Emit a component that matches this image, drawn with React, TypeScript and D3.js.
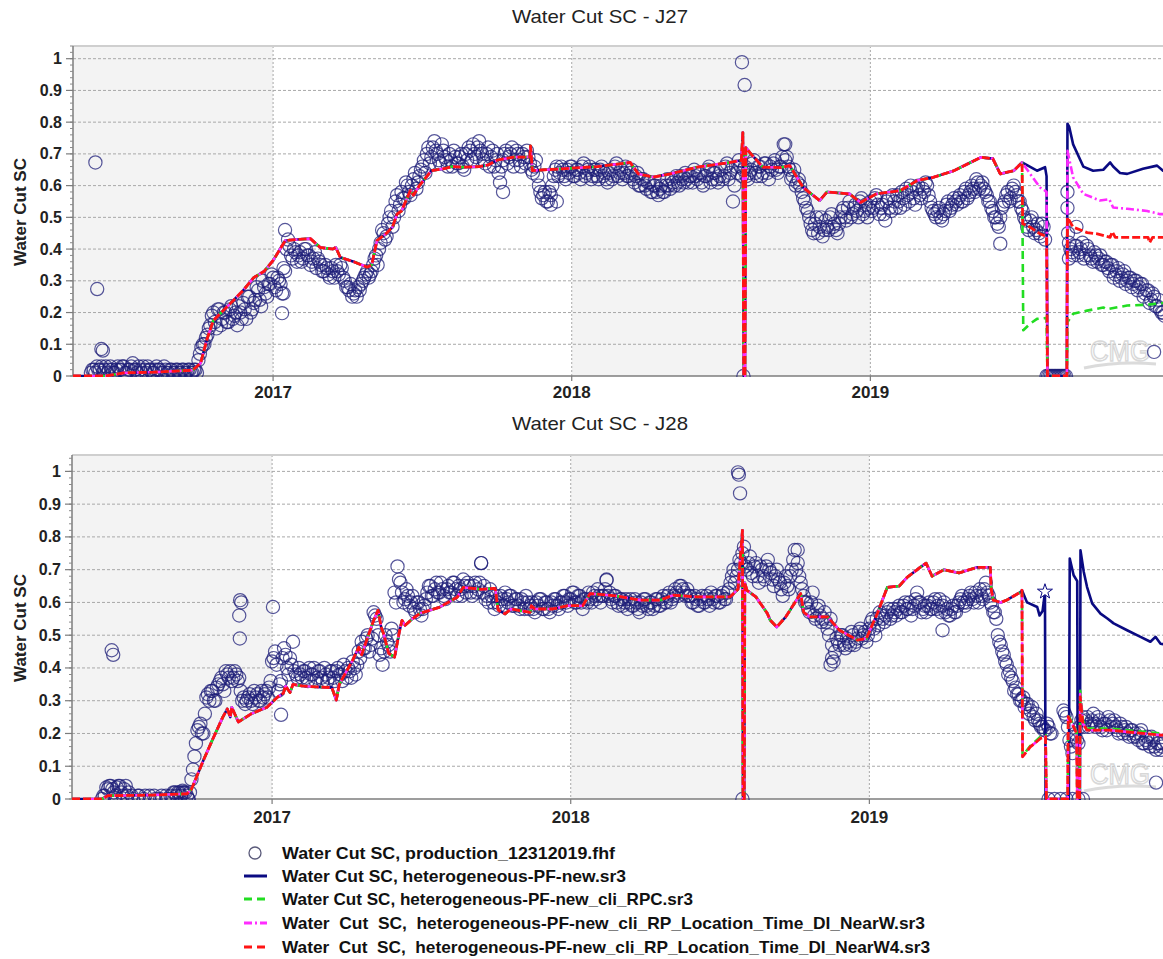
import React from 'react';
import * as d3 from 'd3';

type Pt = [number, number];

const FONT = '"Liberation Sans", Arial, Helvetica, sans-serif';
const W = 1163;
const H = 959;

const X_DOMAIN: [number, number] = [2016.33, 2020.0];
const YEAR_TICKS = [2017, 2018, 2019];
const YEAR_LABELS = ['2017', '2018', '2019'];
const Y_TICKS = [0, 0.1, 0.2, 0.3, 0.4, 0.5, 0.6, 0.7, 0.8, 0.9, 1];
const Y_TICK_LABELS = ['0', '0.1', '0.2', '0.3', '0.4', '0.5', '0.6', '0.7', '0.8', '0.9', '1'];
const SHADED_SPANS: Pt[] = [[2016.33, 2017], [2018, 2019]];

// Observed (production) water cut: two interleaved sample sets, each every OBS_STEP years
const OBS_START_A = 2016.39;
const OBS_START_B = 2016.395;
const OBS_STEP = 0.01;

const obsJ27a: (number | null)[] = [
  0.01,0.02,0.03,0.02,0.01,0.03,0.02,0.02,0.01,0.03,
  0.02,0.03,0.01,0.02,0.04,0.02,0.03,0.01,0.02,0.03,
  0.02,0.01,0.03,0.02,0.01,0.02,0.01,0.02,0.01,0.02,
  0.01,0.02,0.01,0.02,0.01,0.02,0.05,0.09,0.1,0.13,
  0.16,0.2,0.15,0.21,0.18,0.2,0.17,0.22,0.19,0.16,
  0.2,0.23,0.18,0.25,0.21,0.24,0.27,0.22,0.28,0.25,
  0.29,0.31,0.27,0.3,0.26,0.33,0.43,0.38,0.4,0.36,
  0.39,0.37,0.4,0.38,0.36,0.39,0.37,0.35,0.33,0.34,
  0.31,0.33,0.35,0.32,0.34,0.3,0.28,0.29,0.26,0.25,
  0.27,0.3,0.32,0.31,0.33,0.37,0.35,0.42,0.45,0.44,
  0.5,0.47,0.55,0.52,0.58,0.56,0.6,0.57,0.62,0.59,
  0.63,0.66,0.64,0.72,0.69,0.74,0.7,0.67,0.71,0.68,
  0.7,0.66,0.69,0.67,0.7,0.65,0.68,0.71,0.73,0.69,
  0.74,0.7,0.67,0.72,0.69,0.66,0.7,0.61,0.68,0.71,
  0.69,0.72,0.68,0.7,0.66,0.69,0.71,0.67,0.64,0.68,
  0.6,0.56,0.58,0.55,0.57,0.63,0.66,0.64,0.65,0.62,
  0.64,0.66,0.63,0.65,0.62,0.67,0.64,0.66,0.63,0.65,
  0.62,0.66,0.64,0.61,0.65,0.63,0.67,0.64,0.62,0.66,
  0.63,0.65,0.61,0.64,0.6,0.62,0.59,0.61,0.58,0.6,
  0.57,0.6,0.58,0.62,0.59,0.61,0.63,0.6,0.62,0.64,
  0.61,0.63,0.65,0.62,0.64,0.6,0.63,0.66,0.62,0.64,
  0.61,0.65,0.63,0.67,0.64,0.55,0.66,0.68,0.63,0.66,
  0.62,0.65,0.68,0.63,0.66,0.64,0.67,0.62,0.65,0.68,
  0.64,0.66,0.73,0.69,0.65,0.63,0.6,0.62,0.58,0.55,
  0.52,0.48,0.45,0.5,0.47,0.44,0.49,0.46,0.51,0.48,
  0.45,0.5,0.53,0.49,0.55,0.51,0.54,0.5,0.56,0.52,
  0.5,0.55,0.53,0.57,0.51,0.54,0.49,0.56,0.52,0.55,
  0.57,0.53,0.56,0.59,0.55,0.58,0.54,0.6,0.56,0.58,
  0.6,0.55,0.52,0.5,0.53,0.49,0.52,0.55,0.53,0.56,
  0.54,0.57,0.55,0.59,0.57,0.6,0.58,0.61,0.6,0.59,
  0.57,0.55,0.52,0.5,0.47,0.53,0.55,0.58,0.56,0.6,
  0.57,0.55,0.52,0.49,0.46,0.5,0.45,0.48,0.44,0.47,
  0,0,0,0,0,0,0,0.58,0.4,0.38,
  0.41,0.39,0.42,0.38,0.4,0.37,0.39,0.36,0.38,0.35,
  0.36,0.33,0.35,0.32,0.34,0.31,0.33,0.3,0.31,0.29,
  0.3,0.28,0.29,0.26,0.27,0.24,0.25,0.22,0.21,0.2,
];

const obsJ27b: (number | null)[] = [
  0.02,0.01,0.02,0.03,0.02,0.01,0.03,0.01,0.02,0.02,
  0.03,0.01,0.02,0.03,0.02,0.01,0.02,0.03,0.01,0.02,
  0.01,0.02,0.02,0.01,0.03,0.01,0.02,0.01,0.02,0.01,
  0.02,0.01,0.02,0.01,0.02,0.01,0.07,0.1,0.12,0.15,
  0.19,0.17,0.21,0.16,0.2,0.17,0.21,0.18,0.2,0.22,
  0.18,0.21,0.25,0.2,0.23,0.28,0.24,0.3,0.26,0.29,
  0.32,0.28,0.31,0.29,0.34,0.4,0.41,0.37,0.39,0.38,
  0.36,0.4,0.38,0.35,0.37,0.34,0.36,0.33,0.35,0.32,
  0.34,0.31,0.33,0.35,0.31,0.28,0.27,0.25,0.27,0.28,
  0.29,0.31,0.33,0.32,0.35,0.38,0.4,0.46,0.43,0.48,
  0.52,0.5,0.57,0.54,0.56,0.61,0.58,0.6,0.64,0.61,
  0.65,0.68,0.7,0.67,0.72,0.71,0.68,0.73,0.69,0.66,
  0.68,0.71,0.67,0.69,0.66,0.7,0.72,0.68,0.7,0.72,
  0.71,0.68,0.7,0.66,0.71,0.68,0.64,0.66,0.7,0.67,
  0.7,0.66,0.71,0.68,0.7,0.67,0.69,0.65,0.66,0.63,
  0.58,0.57,0.55,0.58,0.6,0.65,0.63,0.66,0.63,0.65,
  0.66,0.63,0.65,0.64,0.66,0.63,0.65,0.62,0.65,0.63,
  0.65,0.63,0.62,0.64,0.62,0.66,0.63,0.65,0.64,0.63,
  0.64,0.62,0.63,0.6,0.62,0.6,0.61,0.58,0.6,0.58,
  0.59,0.58,0.6,0.6,0.62,0.6,0.61,0.63,0.61,0.62,
  0.63,0.61,0.63,0.64,0.61,0.63,0.65,0.61,0.64,0.62,
  0.63,0.62,0.66,0.62,0.65,0.6,0.64,0.66,0.65,0.63,
  0.64,0.67,0.64,0.66,0.63,0.67,0.64,0.66,0.67,0.65,
  0.66,0.69,0.68,0.66,0.62,0.65,0.61,0.6,0.56,0.53,
  0.5,0.46,0.48,0.45,0.5,0.46,0.47,0.5,0.47,0.46,
  0.48,0.52,0.5,0.53,0.5,0.53,0.52,0.55,0.51,0.54,
  0.53,0.52,0.56,0.54,0.53,0.51,0.55,0.53,0.57,0.53,
  0.55,0.58,0.54,0.57,0.6,0.56,0.59,0.57,0.59,0.61,
  0.57,0.53,0.51,0.52,0.5,0.51,0.54,0.52,0.54,0.55,
  0.56,0.55,0.58,0.56,0.58,0.59,0.62,0.59,0.61,0.58,
  0.55,0.53,0.5,0.48,0.5,0.54,0.57,0.55,0.59,0.58,
  0.55,0.53,0.5,0.47,0.49,0.47,0.46,0.45,0.48,0.43,
  0,0,0,0,0,0,0,0.42,0.39,0.41,
  0.38,0.4,0.37,0.41,0.38,0.36,0.38,0.37,0.35,0.36,
  0.34,0.35,0.31,0.33,0.3,0.32,0.29,0.31,0.28,0.3,
  0.27,0.29,0.25,0.27,0.23,0.26,0.22,0.24,0.2,0.19,
];

const obsJ27Extra: Pt[] = [
  [2016.405, 0.673], [2016.411, 0.274], [2016.425, 0.085], [2016.43, 0.08],
  [2017.03, 0.198], [2017.035, 0.26], [2017.04, 0.46], [2017.77, 0.58],
  [2017.93, 0.54], [2017.95, 0.55], [2018.57, 0.989], [2018.579, 0.917],
  [2018.575, 0], [2018.715, 0.73], [2019.435, 0.417], [2019.66, 0.53],
  [2019.662, 0.45], [2019.665, 0.37], [2019.69, 0.47], [2019.95, 0.076],
];

const obsJ28a: (number | null)[] = [
  null,null,null,null,0.0,0.01,0.03,0.04,0.02,0.035,
  0.04,0.01,0.04,0.02,0.01,null,0.01,null,0.0,null,
  0.01,null,0.0,null,0.01,null,0.0,0.01,0.02,0.01,
  0.02,0.025,0.02,0.0,0.06,0.13,0.21,0.23,0.2,0.31,
  0.3,0.33,0.3,0.35,0.37,0.33,0.38,0.39,0.37,0.38,
  0.37,0.3,0.29,0.31,0.3,0.33,0.32,0.3,0.31,0.33,
  0.34,0.42,0.45,0.33,0.36,0.46,0.4,0.43,0.48,0.38,
  0.4,0.37,0.39,0.36,0.38,0.4,0.37,0.39,0.36,0.38,
  0.37,0.39,0.36,0.4,0.38,0.41,0.37,0.39,0.42,0.38,
  0.45,0.48,0.46,0.5,0.47,0.57,0.55,0.44,0.41,0.5,
  0.47,0.52,0.63,0.71,0.66,0.6,0.64,0.59,0.62,0.57,
  0.6,0.56,0.59,0.63,0.65,0.62,0.66,0.63,0.64,0.61,
  0.65,0.63,0.66,0.62,0.64,0.67,0.63,0.65,0.62,0.66,
  0.64,0.72,0.65,0.62,0.64,0.6,0.62,0.59,0.61,0.63,
  0.6,0.62,0.59,0.61,0.58,0.6,0.62,0.58,0.6,0.57,
  0.59,0.61,0.58,0.6,0.57,0.59,0.61,0.58,0.6,0.62,
  0.59,0.61,0.63,0.6,0.62,0.58,0.61,0.63,0.6,0.62,
  0.64,0.6,0.62,0.67,0.63,0.6,0.62,0.59,0.61,0.6,
  0.58,0.61,0.59,0.6,0.57,0.59,0.61,0.58,0.6,0.59,
  0.61,0.59,0.62,0.6,0.63,0.61,0.64,0.62,0.65,0.63,
  0.64,0.62,0.6,0.61,0.59,0.62,0.6,0.61,0.63,0.6,
  0.62,0.6,0.63,0.61,0.64,0.68,0.66,0.7,0.72,0.77,
  0.7,0.74,0.68,0.72,0.66,0.7,0.67,0.73,0.69,0.65,
  0.7,0.66,0.62,0.68,0.64,0.7,0.76,0.72,0.66,0.62,
  0.6,0.57,0.63,0.55,0.59,0.54,0.57,0.52,0.55,0.42,
  0.49,0.47,0.5,0.46,0.48,0.51,0.47,0.49,0.52,0.5,
  0.48,0.52,0.55,0.5,0.53,0.56,0.54,0.57,0.55,0.58,
  0.56,0.59,0.57,0.6,0.58,0.56,0.59,0.63,0.6,0.58,
  0.57,0.6,0.58,0.61,0.59,0.57,0.6,0.58,0.56,0.59,
  0.57,0.6,0.62,0.59,0.61,0.63,0.6,0.62,0.64,0.61,
  0.66,0.62,0.59,0.57,0.5,0.47,0.44,0.41,0.39,0.36,
  0.34,0.32,0.3,0.28,0.29,0.27,0.25,0.26,0.23,0.22,
  0.21,0.22,0.2,null,null,null,0.27,0.25,0.18,0.14,
  0.2,0.17,0.24,0.22,0.25,0.23,0.26,0.22,0.24,0.21,
  0.23,0.25,0.22,0.24,0.21,0.23,0.2,0.22,0.19,0.21,
  0.2,0.18,0.21,0.17,0.19,0.16,0.18,0.15,0.17,0.16,
];

const obsJ28b: (number | null)[] = [
  null,null,null,null,0.01,0.035,0.04,0.03,0.01,0.04,
  0.02,0.03,0.01,null,0.0,null,0.01,null,0.01,null,
  null,0.01,null,0.0,null,0.01,null,0.0,0.02,0.02,
  0.01,0.02,0.01,0.02,0.09,0.17,0.22,0.2,0.26,0.32,
  0.33,0.3,0.34,0.36,0.35,0.39,0.37,0.36,0.39,0.36,
  0.33,0.31,0.3,0.32,0.29,0.31,0.3,0.33,0.32,0.31,
  0.36,0.43,0.41,0.35,0.43,0.44,0.38,0.41,0.39,0.37,
  0.38,0.39,0.37,0.4,0.38,0.36,0.39,0.37,0.4,0.36,
  0.39,0.37,0.39,0.38,0.36,0.39,0.4,0.37,0.4,0.41,
  0.43,0.46,0.49,0.45,0.49,0.56,0.5,0.46,0.45,0.48,
  0.45,0.5,0.6,0.67,0.63,0.61,0.62,0.6,0.58,0.6,
  0.58,0.58,0.61,0.65,0.62,0.64,0.63,0.66,0.62,0.64,
  0.63,0.66,0.64,0.65,0.62,0.65,0.66,0.63,0.65,0.63,
  0.66,0.63,0.61,0.6,0.62,0.58,0.6,0.62,0.59,0.61,
  0.62,0.59,0.61,0.59,0.61,0.58,0.6,0.59,0.58,0.6,
  0.61,0.58,0.6,0.58,0.6,0.61,0.59,0.6,0.62,0.6,
  0.61,0.63,0.6,0.62,0.6,0.61,0.6,0.61,0.63,0.61,
  0.62,0.62,0.64,0.62,0.61,0.62,0.6,0.61,0.59,0.61,
  0.6,0.59,0.61,0.58,0.6,0.61,0.59,0.6,0.58,0.61,
  0.59,0.61,0.6,0.62,0.6,0.62,0.63,0.65,0.64,0.62,
  0.62,0.6,0.62,0.59,0.61,0.6,0.62,0.59,0.61,0.62,
  0.6,0.62,0.61,0.63,0.66,0.7,0.68,0.73,0.75,0.71,
  0.72,0.69,0.71,0.68,0.71,0.68,0.71,0.7,0.67,0.68,
  0.67,0.64,0.66,0.65,0.68,0.73,0.7,0.68,0.64,0.6,
  0.58,0.6,0.56,0.58,0.56,0.55,0.54,0.5,0.47,0.45,
  0.48,0.5,0.47,0.49,0.47,0.5,0.48,0.51,0.49,0.51,
  0.5,0.54,0.52,0.55,0.57,0.55,0.56,0.58,0.56,0.57,
  0.58,0.57,0.59,0.58,0.6,0.58,0.61,0.6,0.57,0.59,
  0.59,0.58,0.6,0.58,0.61,0.59,0.57,0.56,0.58,0.57,
  0.59,0.61,0.6,0.6,0.62,0.61,0.63,0.6,0.62,0.64,
  0.63,0.6,0.57,0.55,0.48,0.45,0.42,0.38,0.37,0.33,
  0.32,0.3,0.31,0.29,0.26,0.28,0.24,0.24,0.22,0.21,
  0.23,0.2,null,null,null,null,0.26,0.22,0.16,0.19,
  0.18,0.22,0.25,0.24,0.22,0.24,0.23,0.25,0.22,0.23,
  0.21,0.24,0.23,0.22,0.2,0.22,0.21,0.2,0.21,0.19,
  0.19,0.2,0.17,0.18,0.17,0.19,0.16,0.17,0.15,0.17,
];

const obsJ28Extra: Pt[] = [
  [2016.463, 0.454], [2016.468, 0.44], [2016.70, 0.02], [2016.72, 0.0],
  [2016.893, 0.607], [2016.897, 0.6], [2016.89, 0.56], [2016.892, 0.49],
  [2017.003, 0.586], [2017.03, 0.257], [2017.70, 0.72], [2018.12, 0.668],
  [2018.56, 0.997], [2018.563, 0.99], [2018.567, 0.933], [2018.575, 0],
  [2018.76, 0.76], [2018.87, 0.41], [2018.875, 0.43], [2019.245, 0.515],
  [2019.60, 0], [2019.62, 0], [2019.64, 0], [2019.66, 0], [2019.68, 0],
  [2019.70, 0], [2019.715, 0], [2019.96, 0.05],
];

// Simulation curves, J27: common history then one tail per run
const simJ27Base: Pt[] = [
  [2016.33,0],[2016.44,0],[2016.5,0.01],[2016.6,0.012],[2016.73,0.018],[2016.757,0.04],
  [2016.78,0.12],[2016.80,0.175],[2016.867,0.238],[2016.90,0.27],[2016.935,0.31],[2016.97,0.33],
  [2017.0,0.364],[2017.041,0.427],[2017.08,0.43],[2017.125,0.433],[2017.158,0.405],[2017.2,0.40],
  [2017.21,0.405],[2017.225,0.374],[2017.27,0.36],[2017.315,0.343],[2017.33,0.35],[2017.348,0.427],
  [2017.38,0.45],[2017.40,0.47],[2017.415,0.51],[2017.43,0.52],[2017.46,0.585],[2017.47,0.57],
  [2017.49,0.6],[2017.53,0.647],[2017.57,0.653],[2017.60,0.66],[2017.64,0.658],[2017.69,0.66],
  [2017.72,0.665],[2017.75,0.68],[2017.805,0.69],[2017.86,0.69],[2017.862,0.725],[2017.865,0.69],
  [2017.868,0.647],[2017.91,0.65],[2017.97,0.653],[2018.086,0.66],[2018.196,0.673],[2018.223,0.637],
  [2018.273,0.627],[2018.33,0.637],[2018.42,0.658],[2018.53,0.673],[2018.568,0.68],[2018.573,0.767],
  [2018.576,0],[2018.580,0],[2018.583,0.72],[2018.60,0.70],[2018.64,0.658],[2018.70,0.657],
  [2018.73,0.663],[2018.775,0.594],[2018.83,0.553],[2018.855,0.58],[2018.93,0.574],[2018.967,0.547],
  [2019.02,0.574],[2019.10,0.584],[2019.157,0.616],[2019.21,0.626],[2019.28,0.647],[2019.325,0.668],
  [2019.37,0.689],[2019.41,0.685],[2019.435,0.637],[2019.48,0.647],[2019.508,0.673],
];
const simJ27NavyTail: Pt[] = [
  [2019.558,0.647],[2019.585,0.658],[2019.590,0.63],[2019.593,0],[2019.658,0],[2019.660,0.795],
  [2019.666,0.785],[2019.679,0.73],[2019.713,0.66],[2019.746,0.647],[2019.78,0.65],[2019.803,0.673],
  [2019.813,0.66],[2019.836,0.64],[2019.86,0.637],[2019.913,0.653],[2019.96,0.663],[2019.98,0.647],[2020.0,0.645],
];
const simJ27GreenTail: Pt[] = [
  [2019.512,0.144],[2019.535,0.165],[2019.558,0.18],[2019.590,0.183],[2019.593,0],[2019.658,0],
  [2019.660,0.17],[2019.679,0.196],[2019.726,0.206],[2019.78,0.216],[2019.79,0.21],[2019.86,0.222],
  [2019.93,0.225],[2020.0,0.232],
];
const simJ27MagentaTail: Pt[] = [
  [2019.535,0.637],[2019.568,0.594],[2019.585,0.584],[2019.590,0.58],[2019.593,0],[2019.658,0],
  [2019.660,0.71],[2019.679,0.626],[2019.713,0.574],[2019.769,0.553],[2019.80,0.557],[2019.813,0.531],
  [2019.86,0.527],[2019.927,0.52],[2019.97,0.51],[2020.0,0.51],
];
const simJ27RedTail: Pt[] = [
  [2019.510,0.48],[2019.535,0.469],[2019.568,0.448],[2019.590,0.44],[2019.593,0],[2019.658,0],
  [2019.660,0.50],[2019.679,0.469],[2019.726,0.452],[2019.76,0.448],[2019.803,0.437],[2019.81,0.455],
  [2019.82,0.437],[2019.93,0.437],[2019.935,0.42],[2019.945,0.437],[2020.0,0.437],
];

// Simulation curves, J28
const simJ28Base: Pt[] = [
  [2016.33,0],[2016.43,0],[2016.45,0.01],[2016.6,0.012],[2016.715,0.016],[2016.73,0.03],
  [2016.77,0.118],[2016.80,0.18],[2016.835,0.25],[2016.85,0.275],[2016.86,0.25],[2016.865,0.28],
  [2016.887,0.235],[2016.93,0.26],[2016.983,0.28],[2017.017,0.31],[2017.038,0.323],[2017.045,0.345],
  [2017.06,0.325],[2017.07,0.35],[2017.10,0.345],[2017.15,0.342],[2017.20,0.34],[2017.215,0.302],
  [2017.225,0.35],[2017.27,0.424],[2017.29,0.463],[2017.30,0.44],[2017.315,0.48],[2017.34,0.545],
  [2017.355,0.576],[2017.365,0.525],[2017.375,0.50],[2017.39,0.445],[2017.41,0.433],[2017.425,0.505],
  [2017.435,0.545],[2017.445,0.53],[2017.47,0.55],[2017.496,0.567],[2017.56,0.585],[2017.62,0.616],
  [2017.64,0.646],[2017.70,0.64],[2017.747,0.643],[2017.757,0.577],[2017.78,0.565],[2017.80,0.58],
  [2017.864,0.57],[2017.868,0.59],[2017.88,0.58],[2017.94,0.58],[2017.99,0.59],[2018.04,0.59],
  [2018.065,0.627],[2018.15,0.62],[2018.233,0.607],[2018.30,0.607],[2018.343,0.622],[2018.42,0.617],
  [2018.534,0.617],[2018.56,0.64],[2018.575,0.82],[2018.577,0],[2018.581,0],[2018.583,0.66],
  [2018.59,0.637],[2018.62,0.617],[2018.658,0.567],[2018.668,0.546],[2018.69,0.525],[2018.72,0.556],
  [2018.77,0.627],[2018.78,0.57],[2018.80,0.556],[2018.86,0.556],[2018.90,0.515],[2018.96,0.485],
  [2018.99,0.49],[2019.027,0.567],[2019.06,0.646],[2019.10,0.65],[2019.127,0.677],[2019.17,0.707],
  [2019.19,0.72],[2019.21,0.68],[2019.25,0.70],[2019.30,0.69],[2019.36,0.707],[2019.405,0.707],
  [2019.408,0.64],[2019.415,0.607],[2019.44,0.6],[2019.46,0.607],[2019.505,0.631],
];
const simJ28NavyTail: Pt[] = [
  [2019.511,0.637],[2019.528,0.60],[2019.562,0.586],[2019.57,0.56],[2019.58,0.574],[2019.586,0.617],
  [2019.588,0.633],[2019.590,0],[2019.668,0],[2019.671,0.734],[2019.684,0.683],[2019.696,0.665],
  [2019.698,0],[2019.705,0],[2019.707,0.759],[2019.718,0.693],[2019.729,0.647],[2019.746,0.597],
  [2019.774,0.566],[2019.797,0.551],[2019.818,0.536],[2019.863,0.515],[2019.908,0.495],[2019.941,0.48],
  [2019.958,0.495],[2019.975,0.474],[2020.0,0.47],
];
const simJ28GreenTail: Pt[] = [
  [2019.511,0.637],[2019.513,0.132],[2019.539,0.162],[2019.573,0.19],[2019.59,0.195],[2019.593,0],
  [2019.664,0],[2019.666,0.255],[2019.684,0.225],[2019.694,0.205],[2019.696,0],[2019.704,0],
  [2019.706,0.33],[2019.715,0.24],[2019.729,0.215],[2019.807,0.215],[2019.863,0.21],[2019.919,0.205],
  [2019.975,0.2],[2020.0,0.2],
];
const simJ28MagentaTail: Pt[] = [
  [2019.511,0.637],[2019.513,0.129],[2019.539,0.159],[2019.573,0.185],[2019.59,0.19],[2019.593,0],
  [2019.664,0],[2019.666,0.251],[2019.684,0.22],[2019.694,0.2],[2019.696,0],[2019.704,0],
  [2019.706,0.32],[2019.715,0.23],[2019.729,0.21],[2019.807,0.21],[2019.863,0.205],[2019.919,0.2],
  [2019.975,0.195],[2020.0,0.195],
];
const simJ28RedTail: Pt[] = [
  [2019.511,0.637],[2019.513,0.129],[2019.539,0.159],[2019.573,0.185],[2019.59,0.19],[2019.593,0],
  [2019.664,0],[2019.666,0.251],[2019.684,0.22],[2019.694,0.2],[2019.696,0],[2019.704,0],
  [2019.706,0.312],[2019.715,0.23],[2019.729,0.21],[2019.807,0.21],[2019.863,0.205],[2019.919,0.2],
  [2019.975,0.195],[2020.0,0.195],
];
const starJ28: Pt = [2019.588, 0.633];

const LEGEND_LABELS = [
  'Water Cut SC, production_12312019.fhf',
  'Water Cut SC, heterogeneous-PF-new.sr3',
  'Water Cut SC, heterogeneous-PF-new_cli_RPC.sr3',
  'Water  Cut  SC,  heterogeneous-PF-new_cli_RP_Location_Time_DI_NearW.sr3',
  'Water  Cut  SC,  heterogeneous-PF-new_cli_RP_Location_Time_DI_NearW4.sr3',
];

const COLORS = {
  obs: '#1e1e78',
  navy: '#0a0a82',
  green: '#22dd22',
  magenta: '#ff2cff',
  red: '#ff1414',
};

function toPoints(start: number, vals: (number | null)[]): Pt[] {
  const pts: Pt[] = [];
  vals.forEach((v, i) => {
    if (v !== null) pts.push([start + i * OBS_STEP, v]);
  });
  return pts;
}

type PanelCfg = {
  id: string;
  title: string;
  titleY: number;
  left: number;
  right: number;
  top: number;
  bottom: number;
  yMax: number;
  yearLabelY: number;
  yLabelCY: number;
  obs: Pt[];
  navy: Pt[];
  green: Pt[];
  magenta: Pt[];
  red: Pt[];
  star?: Pt;
};

function Panel({ cfg }: { cfg: PanelCfg }) {
  const x = d3.scaleLinear().domain(X_DOMAIN).range([cfg.left, cfg.right]);
  const y = d3.scaleLinear().domain([0, cfg.yMax]).range([cfg.bottom, cfg.top]);
  const line = d3.line<Pt>().x((d) => x(d[0])).y((d) => y(d[1]));
  const clipId = `clip-${cfg.id}`;
  const minorTicks = d3.range(0, cfg.yMax + 1e-9, 0.02);
  const gridColor = '#a8a8a8';
  const star = d3.symbol().type(d3.symbolStar).size(70)();

  return (
    <g>
      <defs>
        <clipPath id={clipId}>
          <rect x={cfg.left} y={cfg.top} width={cfg.right - cfg.left} height={cfg.bottom - cfg.top + 1} />
        </clipPath>
      </defs>
      <text x={600} y={cfg.titleY} textAnchor="middle" fontSize={19} fontFamily={FONT} fill="#222"
        textLength={176} lengthAdjust="spacingAndGlyphs">{cfg.title}</text>
      {/* background bands */}
      <rect x={cfg.left} y={cfg.top} width={cfg.right - cfg.left} height={cfg.bottom - cfg.top} fill="#ffffff" />
      {SHADED_SPANS.map((s, i) => (
        <rect key={i} x={x(s[0])} y={cfg.top} width={x(s[1]) - x(s[0])} height={cfg.bottom - cfg.top} fill="#f3f3f3" />
      ))}
      {/* grid */}
      {Y_TICKS.filter((t) => t > 0).map((t) => (
        <line key={t} x1={cfg.left} x2={cfg.right} y1={y(t)} y2={y(t)} stroke={gridColor} strokeWidth={1} strokeDasharray="3,2" />
      ))}
      {YEAR_TICKS.map((t) => (
        <line key={t} x1={x(t)} x2={x(t)} y1={cfg.top} y2={cfg.bottom} stroke={gridColor} strokeWidth={1} strokeDasharray="2,2" />
      ))}
      {/* frame */}
      <line x1={cfg.left} x2={W} y1={cfg.top} y2={cfg.top} stroke="#cfcfcf" strokeWidth={2} />
      <line x1={cfg.left} x2={cfg.left} y1={cfg.top} y2={cfg.bottom} stroke="#7c7c7c" strokeWidth={1.5} />
      <line x1={cfg.left} x2={W} y1={cfg.bottom} y2={cfg.bottom} stroke="#7c7c7c" strokeWidth={1.5} />
      {/* y ticks */}
      {minorTicks.map((t, i) => (
        <line key={'m' + i} x1={cfg.left - 3} x2={cfg.left} y1={y(t)} y2={y(t)} stroke="#8a8a8a" strokeWidth={1} />
      ))}
      {Y_TICKS.map((t, i) => (
        <g key={'y' + i}>
          <line x1={cfg.left - 7} x2={cfg.left} y1={y(t)} y2={y(t)} stroke="#7c7c7c" strokeWidth={1.2} />
          <text x={cfg.left - 11} y={y(t) + 5.5} textAnchor="end" fontSize={16} fontWeight="bold" fontFamily={FONT} fill="#222">
            {Y_TICK_LABELS[i]}
          </text>
        </g>
      ))}
      {/* x ticks */}
      {YEAR_TICKS.map((t, i) => (
        <g key={'x' + i}>
          <line x1={x(t)} x2={x(t)} y1={cfg.bottom} y2={cfg.bottom + 5} stroke="#7c7c7c" strokeWidth={1.2} />
          <text x={x(t)} y={cfg.yearLabelY} textAnchor="middle" fontSize={17} fontWeight="bold" fontFamily={FONT} fill="#222">
            {YEAR_LABELS[i]}
          </text>
        </g>
      ))}
      <text transform={`translate(26, ${cfg.yLabelCY}) rotate(-90)`} textAnchor="middle" fontSize={17} fontWeight="bold"
        fontFamily={FONT} fill="#222">Water Cut SC</text>
      {/* watermark */}
      <g opacity={0.9}>
        <text x={1090} y={cfg.bottom - 15} fontSize={30} fontFamily={FONT} fill="none" stroke="#d4d4d4" strokeWidth={1.5}
          textLength={60} lengthAdjust="spacingAndGlyphs">CMG</text>
        <path d={`M1084,${cfg.bottom - 8} Q1118,${cfg.bottom - 15} 1156,${cfg.bottom - 12}`} fill="none" stroke="#d8d8d8" strokeWidth={3} />
      </g>
      <g clipPath={`url(#${clipId})`}>
        {cfg.obs.map((d, i) => (
          <circle key={i} cx={x(d[0])} cy={y(d[1])} r={6.6} fill="none" stroke={COLORS.obs} strokeWidth={1.2} strokeOpacity={0.75} />
        ))}
        <path d={line(cfg.navy) || ''} fill="none" stroke={COLORS.navy} strokeWidth={2.6} strokeLinejoin="round" />
        <path d={line(cfg.green) || ''} fill="none" stroke={COLORS.green} strokeWidth={2.6} strokeDasharray="8,5" strokeLinejoin="round" />
        <path d={line(cfg.magenta) || ''} fill="none" stroke={COLORS.magenta} strokeWidth={2.6} strokeDasharray="8,3,2,3" strokeLinejoin="round" />
        <path d={line(cfg.red) || ''} fill="none" stroke={COLORS.red} strokeWidth={2.8} strokeDasharray="8,3" strokeLinejoin="round" />
        {cfg.star && (
          <path d={star || ''} transform={`translate(${x(cfg.star[0])},${y(cfg.star[1])})`} fill="#ffffff" stroke={COLORS.navy} strokeWidth={1} />
        )}
      </g>
    </g>
  );
}

function Legend() {
  const rowY = [853, 876, 899, 923, 947];
  const widths = [333, 344, 411, 643, 648];
  const mx1 = 244;
  const mx2 = 267;
  return (
    <g>
      <circle cx={255} cy={rowY[0]} r={6} fill="none" stroke="#5a5a7a" strokeWidth={1.3} />
      <line x1={mx1} x2={mx2} y1={rowY[1]} y2={rowY[1]} stroke={COLORS.navy} strokeWidth={3} />
      <line x1={mx1} x2={mx2} y1={rowY[2]} y2={rowY[2]} stroke={COLORS.green} strokeWidth={3} strokeDasharray="8,5" />
      <line x1={mx1} x2={mx2} y1={rowY[3]} y2={rowY[3]} stroke={COLORS.magenta} strokeWidth={3} strokeDasharray="8,3,2,3" />
      <line x1={mx1} x2={mx2} y1={rowY[4]} y2={rowY[4]} stroke={COLORS.red} strokeWidth={3} strokeDasharray="8,5" />
      {LEGEND_LABELS.map((t, i) => (
        <text key={i} x={282} y={rowY[i] + 6} fontSize={17} fontWeight="bold" fontFamily={FONT} fill="#111"
          textLength={widths[i]} lengthAdjust="spacingAndGlyphs" style={{ whiteSpace: 'pre' }}>{t}</text>
      ))}
    </g>
  );
}

export default function App() {
  const top: PanelCfg = {
    id: 'j27', title: 'Water Cut SC - J27', titleY: 23,
    left: 73, right: 1169, top: 46, bottom: 376, yMax: 1.04,
    yearLabelY: 398, yLabelCY: 212,
    obs: toPoints(OBS_START_A, obsJ27a).concat(toPoints(OBS_START_B, obsJ27b), obsJ27Extra),
    navy: simJ27Base.concat(simJ27NavyTail),
    green: simJ27Base.concat(simJ27GreenTail),
    magenta: simJ27Base.concat(simJ27MagentaTail),
    red: simJ27Base.concat(simJ27RedTail),
  };
  const bottom: PanelCfg = {
    id: 'j28', title: 'Water Cut SC - J28', titleY: 430,
    left: 72, right: 1168, top: 455, bottom: 799, yMax: 1.05,
    yearLabelY: 823, yLabelCY: 628,
    obs: toPoints(OBS_START_A, obsJ28a).concat(toPoints(OBS_START_B, obsJ28b), obsJ28Extra),
    navy: simJ28Base.concat(simJ28NavyTail),
    green: simJ28Base.concat(simJ28GreenTail),
    magenta: simJ28Base.concat(simJ28MagentaTail),
    red: simJ28Base.concat(simJ28RedTail),
    star: starJ28,
  };
  return (
    <svg width={W} height={H} viewBox={`0 0 ${W} ${H}`} style={{ position: 'absolute', left: 0, top: 0, background: '#fff' }}>
      <rect x={0} y={0} width={W} height={H} fill="#ffffff" />
      <Panel cfg={top} />
      <Panel cfg={bottom} />
      <Legend />
    </svg>
  );
}
